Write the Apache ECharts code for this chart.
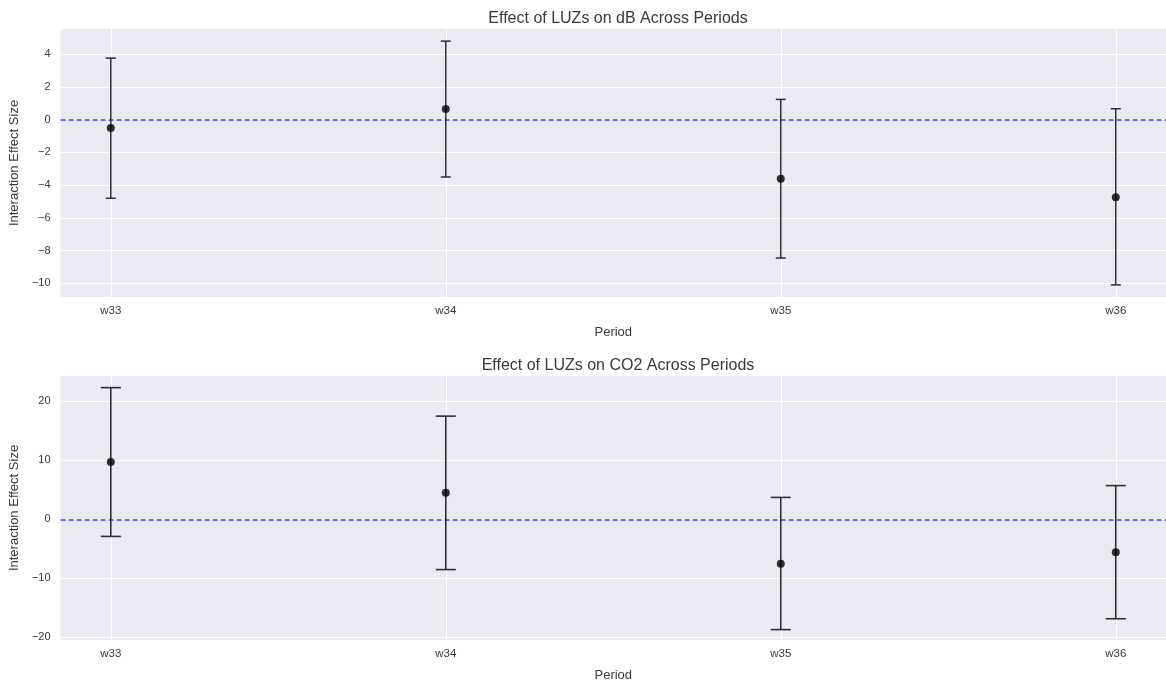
<!DOCTYPE html>
<html>
<head>
<meta charset="utf-8">
<script src="https://cdn.jsdelivr.net/npm/echarts@6/dist/echarts.min.js"></script>
<style>
  html, body { margin: 0; padding: 0; background: #fff; }
  #main { width: 1166px; height: 683px; }
</style>
</head>
<body>
<div id="main"></div>
<script>
// 数据
var periods = ['w33', 'w34', 'w35', 'w36'];
var periodPos = [0, 1, 2, 3];

var dbMean = [-0.5, 0.65, -3.6, -4.73];
var dbLow = [-4.8, -3.5, -8.45, -10.09];
var dbHigh = [3.76, 4.8, 1.24, 0.67];

var co2Mean = [9.73, 4.5, -7.5, -5.55];
var co2Low = [-2.88, -8.5, -18.67, -16.83];
var co2High = [22.33, 17.5, 3.73, 5.73];

var dbTicks = [-10, -8, -6, -4, -2, 0, 2, 4];
var co2Ticks = [-20, -10, 0, 10, 20];

var myChart = echarts.init(document.getElementById('main'));

var font = 'Liberation Sans, Arial, sans-serif';
var textColor = '#3a3a3a';

// 误差线（上图端帽较窄）
function errorBars(gridIdx, low, high, capHalf, lw) {
  return {
    type: 'custom',
    xAxisIndex: gridIdx,
    yAxisIndex: gridIdx,
    z: 3,
    data: periodPos.map(function (p, i) { return [p, low[i], high[i]]; }),
    renderItem: function (params, api) {
      var lo = api.coord([api.value(0), api.value(1)]);
      var hi = api.coord([api.value(0), api.value(2)]);
      var style = { stroke: '#2e2e2e', lineWidth: lw };
      return {
        type: 'group',
        children: [
          { type: 'line', shape: { x1: lo[0], y1: lo[1], x2: hi[0], y2: hi[1] }, style: style },
          { type: 'line', shape: { x1: lo[0] - capHalf, y1: lo[1], x2: lo[0] + capHalf, y2: lo[1] }, style: style },
          { type: 'line', shape: { x1: hi[0] - capHalf, y1: hi[1], x2: hi[0] + capHalf, y2: hi[1] }, style: style }
        ]
      };
    }
  };
}

function points(gridIdx, mean) {
  return {
    type: 'scatter',
    xAxisIndex: gridIdx,
    yAxisIndex: gridIdx,
    z: 4,
    symbolSize: 8,
    itemStyle: { color: '#000' },
    data: periodPos.map(function (p, i) { return [p, mean[i]]; }),
    markLine: {
      silent: true,
      symbol: 'none',
      label: { show: false },
      lineStyle: { color: 'rgba(0,0,255,0.75)', type: [5, 3], width: 1.6 },
      data: [{ yAxis: 0 }]
    }
  };
}

function xAxis(gridIdx) {
  return {
    type: 'value',
    gridIndex: gridIdx,
    min: -0.15,
    max: 3.15,
    name: 'Period',
    nameLocation: 'middle',
    nameGap: 29,
    nameTextStyle: { fontFamily: font, fontSize: 13, color: textColor },
    axisLine: { show: false },
    axisTick: { show: false, customValues: periodPos },
    axisLabel: {
      customValues: periodPos,
      margin: 8,
      fontFamily: font, fontSize: 11.5, color: textColor,
      formatter: function (v) { return periods[Math.round(v)]; }
    },
    splitLine: { show: true, lineStyle: { color: '#fff', width: 1 } }
  };
}

function yAxis(gridIdx, min, max, ticks) {
  return {
    type: 'value',
    gridIndex: gridIdx,
    min: min,
    max: max,
    name: 'Interaction Effect Size',
    nameLocation: 'middle',
    nameGap: 33,
    nameTextStyle: { fontFamily: font, fontSize: 13, color: textColor },
    axisLine: { show: false },
    axisTick: { show: false, customValues: ticks },
    axisLabel: {
      customValues: ticks,
      margin: 10,
      fontFamily: font, fontSize: 11, color: textColor,
      formatter: function (v) { return String(v).replace('-', '\u2212'); }
    },
    splitLine: { show: true, lineStyle: { color: '#fff', width: 1 } }
  };
}

option = {
  backgroundColor: '#fff',
  animation: false,
  title: [
    {
      text: 'Effect of LUZs on dB Across Periods',
      left: 613, top: 6, textAlign: 'center',
      textStyle: { fontFamily: font, fontSize: 16, fontWeight: 'normal', color: textColor }
    },
    {
      text: 'Effect of LUZs on CO2 Across Periods',
      left: 613, top: 353, textAlign: 'center',
      textStyle: { fontFamily: font, fontSize: 16, fontWeight: 'normal', color: textColor }
    }
  ],
  grid: [
    { left: 60, right: -3, top: 29, height: 268, show: true, backgroundColor: '#eaeaf2', borderWidth: 0 },
    { left: 60, right: -3, top: 376, height: 268, show: true, backgroundColor: '#eaeaf2', borderWidth: 0 }
  ],
  xAxis: [xAxis(0), xAxis(1)],
  yAxis: [
    yAxis(0, -10.83, 5.54, dbTicks),
    yAxis(1, -20.43, 24.3, co2Ticks)
  ],
  series: [
    errorBars(0, dbLow, dbHigh, 5, 1.5),
    points(0, dbMean),
    errorBars(1, co2Low, co2High, 10, 1.6),
    points(1, co2Mean)
  ]
};

myChart.setOption(option);
</script>
</body>
</html>
